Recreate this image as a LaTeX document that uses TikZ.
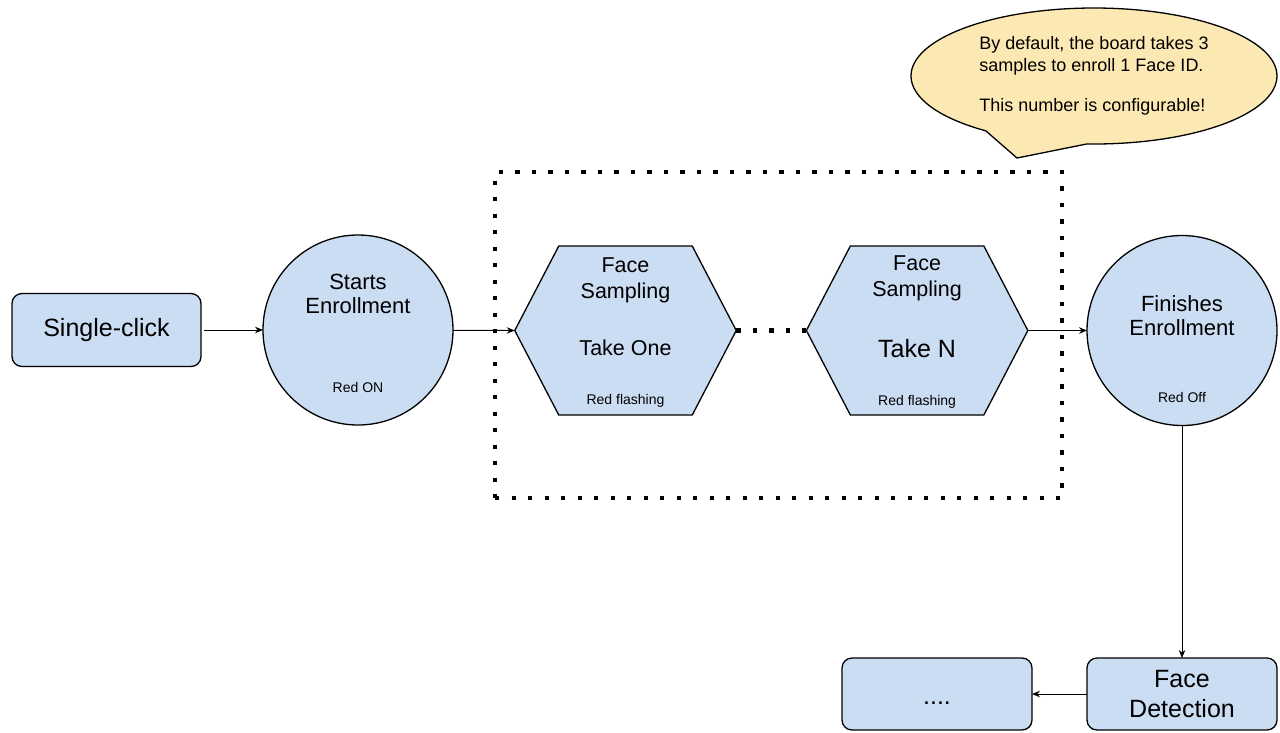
\documentclass[tikz,border=0pt]{standalone}
\usepackage{fontspec}
\setmainfont{Liberation Sans}
\usetikzlibrary{shapes.callouts,shapes.geometric,arrows.meta,calc}
\definecolor{boxblue}{HTML}{CBDDF3}
\definecolor{notey}{HTML}{FCE8B2}
\begin{document}
\begin{tikzpicture}[x=1pt,y=-1pt,
  every node/.style={inner sep=0pt, outer sep=0pt},
  arr/.style={line width=1pt, -{Stealth[length=8pt,width=6.5pt]}},
  rbox/.style={draw, line width=1.3pt, fill=boxblue, rounded corners=10pt, minimum width=189pt, minimum height=73pt},
  circ/.style={circle, draw, line width=1.3pt, fill=boxblue, minimum size=190pt},
  hexbg/.style={draw, line width=1.3pt, fill=boxblue},
  hexnode/.style={minimum width=221.5pt, minimum height=169pt},
  big/.style={font=\fontsize{25}{29}\selectfont, align=center},
  mid/.style={font=\fontsize{22}{24.5}\selectfont, align=center},
  hexfont/.style={font=\fontsize{21.5}{26}\selectfont, align=center},
  small/.style={font=\fontsize{14}{16}\selectfont},
  dotline/.style={line width=4.3pt, dash pattern=on 4.3pt off 12.2pt}
]
\useasboundingbox (0,0) rectangle (1280,732);

% group frame
\node[draw, dotline, minimum width=567pt, minimum height=326pt] (group) at (778.5,335) {};

% speech bubble
\node[ellipse callout, draw, line width=1.3pt, fill=notey,
      minimum width=366pt, minimum height=136pt,
      callout absolute pointer={(1017,158)}, callout pointer arc=34,
      align=left, font=\fontsize{18}{22}\selectfont] (note) at (1094,76)
  {By default, the board takes 3\\samples to enroll 1 Face ID.\\[18pt]This number is configurable!};

% single click
\node[rbox, big] (click) at (106.5,330) {Single-click};

% starts enrollment
\node[circ] (start) at (358,330) {};
\node[mid] (startt) at (358,294) {Starts\\Enrollment};
\node[small] (startr) at (358,387) {Red ON};

% hexagon 1
\coordinate (hc1) at (625.5,330.5);
\draw[hexbg] ($(hc1)+(-110.75,0)$) -- ($(hc1)+(-66.75,-84.5)$) -- ($(hc1)+(66.75,-84.5)$)
  -- ($(hc1)+(110.75,0)$) -- ($(hc1)+(66.75,84.5)$) -- ($(hc1)+(-66.75,84.5)$) -- cycle;
\node[hexnode] (hex1) at (hc1) {};
\node[hexfont] (hex1t) at (625.5,280) {Face\\Sampling};
\node[hexfont] (hex1n) at (625.5,348) {Take One};
\node[small] (hex1r) at (625.5,401) {Red flashing};

% hexagon 2
\coordinate (hc2) at (917.1,330.5);
\draw[hexbg] ($(hc2)+(-110.75,0)$) -- ($(hc2)+(-66.75,-84.5)$) -- ($(hc2)+(66.75,-84.5)$)
  -- ($(hc2)+(110.75,0)$) -- ($(hc2)+(66.75,84.5)$) -- ($(hc2)+(-66.75,84.5)$) -- cycle;
\node[hexnode] (hex2) at (hc2) {};
\node[hexfont] (hex2t) at (917.1,278) {Face\\Sampling};
\node[font=\fontsize{25}{29}\selectfont] (hex2n) at (917.1,349) {Take N};
\node[small] (hex2r) at (917.1,402) {Red flashing};

% finishes enrollment
\node[circ] (finish) at (1182,330.5) {};
\node[mid] (finisht) at (1182,315.5) {Finishes\\Enrollment};
\node[small] (finishr) at (1182,397) {Red Off};

% bottom boxes
\node[rbox, minimum width=190pt, minimum height=72pt, font=\fontsize{25}{30}\selectfont, align=center] (det) at (1182,694) {Face\\Detection};
\node[rbox, minimum width=190pt, minimum height=72pt] (more) at (937,694) {};
\node[big] (moret) at (937,703) {....};

% connectors
\draw[arr, shorten <=3pt] (click) -- (start);
\draw[arr] (start) -- (hex1.west);
\draw[dotline] (hex1.east) -- (hex2.west);
\draw[arr] (hex2.east) -- (finish);
\draw[arr] (finish) -- (det);
\draw[arr] (det) -- (more);
\end{tikzpicture}
\end{document}
